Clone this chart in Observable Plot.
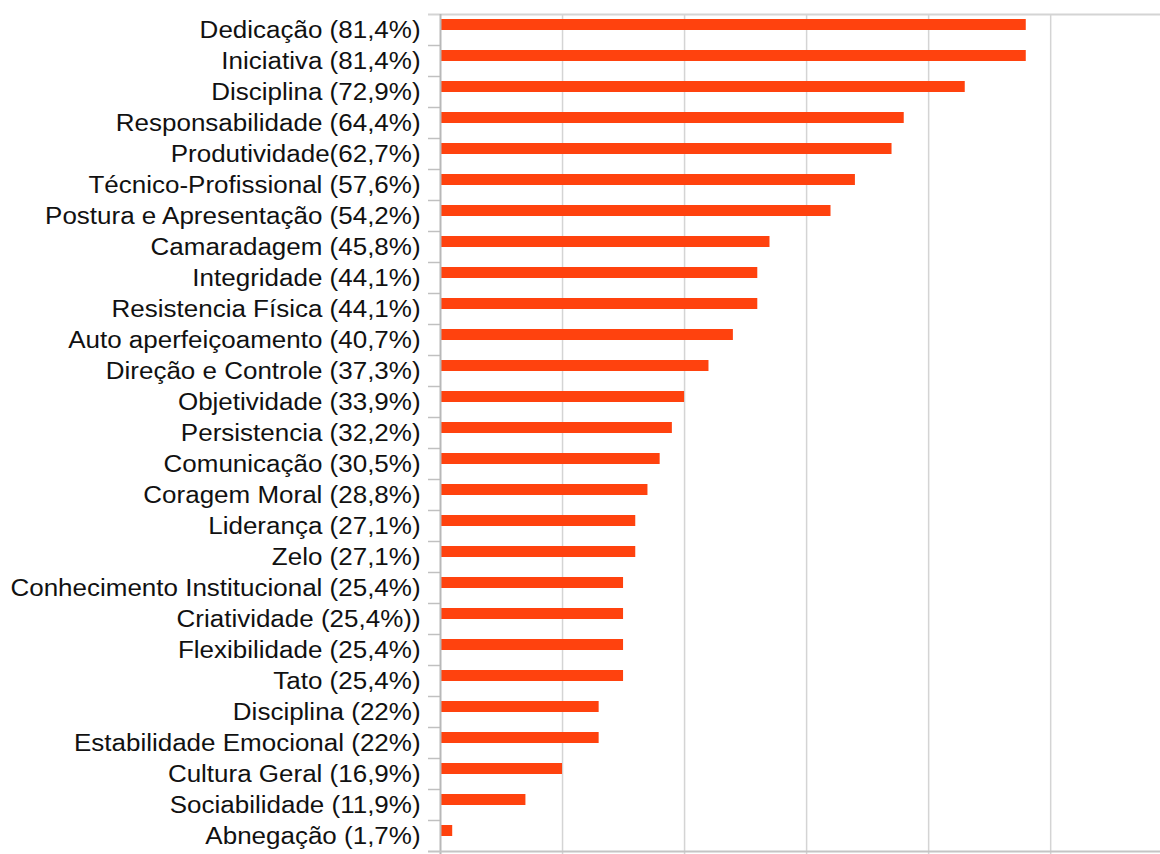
<!DOCTYPE html>
<html>
<head>
<meta charset="utf-8">
<script src="https://cdn.jsdelivr.net/npm/d3@7"></script>
<script src="https://cdn.jsdelivr.net/npm/@observablehq/plot@0.6"></script>
<style>
  html, body { margin: 0; padding: 0; background: #fff; }
  #chart svg { display: block; }
</style>
</head>
<body>
<div id="chart"></div>
<script>
// Category labels (as printed in the chart)
const labels = [
  "Dedicação (81,4%)",
  "Iniciativa (81,4%)",
  "Disciplina (72,9%)",
  "Responsabilidade (64,4%)",
  "Produtividade(62,7%)",
  "Técnico-Profissional (57,6%)",
  "Postura e Apresentação (54,2%)",
  "Camaradagem (45,8%)",
  "Integridade (44,1%)",
  "Resistencia Física (44,1%)",
  "Auto aperfeiçoamento (40,7%)",
  "Direção e Controle (37,3%)",
  "Objetividade (33,9%)",
  "Persistencia (32,2%)",
  "Comunicação (30,5%)",
  "Coragem Moral (28,8%)",
  "Liderança (27,1%)",
  "Zelo (27,1%)",
  "Conhecimento Institucional (25,4%)",
  "Criatividade (25,4%))",
  "Flexibilidade (25,4%)",
  "Tato (25,4%)",
  "Disciplina (22%)",
  "Estabilidade Emocional (22%)",
  "Cultura Geral (16,9%)",
  "Sociabilidade (11,9%)",
  "Abnegação (1,7%)"
];
// Number of respondents (out of 59)
const counts = [48, 48, 43, 38, 37, 34, 32, 27, 26, 26, 24, 22, 20, 19, 18, 17, 16, 16, 15, 15, 15, 15, 13, 13, 10, 7, 1];
const xMax = 59;
const gridTicks = [0, 10, 20, 30, 40, 50];

const data = labels.map((label, i) => ({label, count: counts[i]}));
const lastLabel = labels[labels.length - 1];
const firstLabel = labels[0];

const pxPerUnit = (1160 - 440) / xMax;
const tickLen = -12 / pxPerUnit;

const chart = Plot.plot({
  width: 1160,
  height: 854,
  marginLeft: 440,
  marginRight: 0,
  marginTop: 14,
  marginBottom: 3,
  style: {fontFamily: "'Liberation Sans', Arial, sans-serif", background: "#fff"},
  x: {domain: [0, xMax], axis: null},
  y: {domain: labels, axis: null, padding: 0},
  marks: [
    // vertical gridlines
    Plot.ruleX(gridTicks.slice(1), {x: d => d, stroke: "#d4d4d4", strokeWidth: 1.5, insetBottom: -3}),
    // inner boundary ticks on the category axis
    Plot.ruleY(labels.slice(1), {y: d => d, dy: -15.5, x1: tickLen, x2: 0, stroke: "#c0c0c0", strokeWidth: 1.5}),
    // top frame line
    Plot.ruleY([firstLabel], {y: d => d, dy: -15.5, x1: tickLen, x2: xMax, stroke: "#d4d4d4", strokeWidth: 2}),
    // bars
    Plot.barX(data, {x: "count", y: "label", fill: "#ff420e", insetTop: 5, insetBottom: 15}),
    // left axis line
    Plot.ruleX([0], {x: d => d, stroke: "#b8b8b8", strokeWidth: 2, insetBottom: -3}),
    // bottom axis line
    Plot.ruleY([lastLabel], {y: d => d, dy: 15.5, x1: tickLen, x2: xMax, stroke: "#c4c4c4", strokeWidth: 2}),
    // category labels
    Plot.text(data, {
      y: "label", text: "label", frameAnchor: "left", textAnchor: "end",
      dx: -20, dy: 0.5, fontSize: 23, fill: "#111"
    })
  ]
});

document.getElementById("chart").appendChild(chart);

// horizontal stretch of the label glyphs (anchored at their right edge, x = 420)
const labelGroup = chart.querySelector("text") && chart.querySelector("text").parentNode;
if (labelGroup) {
  const tr = labelGroup.getAttribute("transform") || "";
  labelGroup.setAttribute("transform", "translate(420,0) scale(1.13,1) translate(-420,0) " + tr);
}
</script>
</body>
</html>
